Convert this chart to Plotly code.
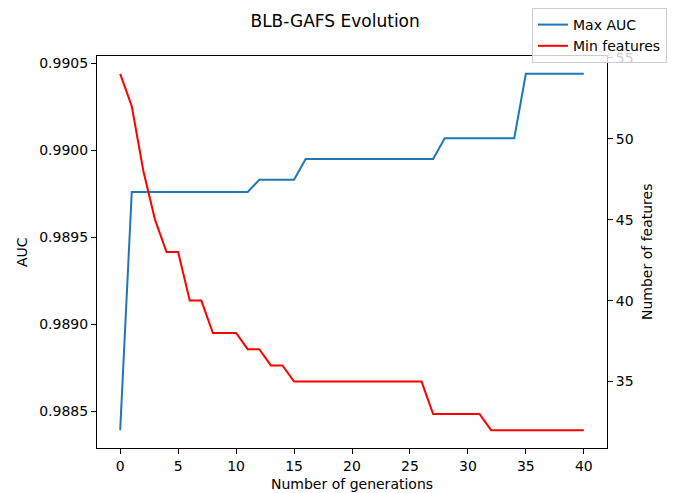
import plotly.graph_objects as go

# Generation index
generations = list(range(41))

# Best AUC reached so far at each generation
max_auc = [
    0.98839,
    0.98976, 0.98976, 0.98976, 0.98976, 0.98976, 0.98976, 0.98976, 0.98976, 0.98976, 0.98976, 0.98976,
    0.98983, 0.98983, 0.98983, 0.98983,
    0.98995, 0.98995, 0.98995, 0.98995, 0.98995, 0.98995, 0.98995, 0.98995, 0.98995, 0.98995, 0.98995, 0.98995,
    0.99007, 0.99007, 0.99007, 0.99007, 0.99007, 0.99007, 0.99007,
    0.99044, 0.99044, 0.99044, 0.99044, 0.99044, 0.99044,
]

# Smallest feature subset size found so far at each generation
min_features = [
    54, 52, 48, 45, 43, 43, 40, 40, 38, 38, 38, 37, 37, 36, 36,
    35, 35, 35, 35, 35, 35, 35, 35, 35, 35, 35, 35,
    33, 33, 33, 33, 33,
    32, 32, 32, 32, 32, 32, 32, 32, 32,
]

x_ticks = [0, 5, 10, 15, 20, 25, 30, 35, 40]
auc_ticks = [0.9885, 0.9890, 0.9895, 0.9900, 0.9905]
feature_ticks = [35, 40, 45, 50, 55]

FONT = "DejaVu Sans"
BLUE = "#1f77b4"
RED = "#ff0000"


def padded(lo, hi, frac=0.05):
    span = hi - lo
    return [lo - frac * span, hi + frac * span]


fig = go.Figure()
fig.add_trace(go.Scatter(
    x=generations, y=max_auc, mode="lines", name="Max AUC",
    line=dict(color=BLUE, width=2), yaxis="y",
))
fig.add_trace(go.Scatter(
    x=generations, y=min_features, mode="lines", name="Min features",
    line=dict(color=RED, width=2), yaxis="y2",
))

axis_common = dict(
    showgrid=False, zeroline=False, showline=True, linecolor="black", linewidth=1,
    ticks="outside", ticklen=5, tickwidth=1, tickcolor="black", automargin=False,
    tickfont=dict(family=FONT, size=14, color="black"),
)

fig.update_layout(
    width=675, height=493,
    margin=dict(l=97, r=68, t=56, b=45, pad=0, autoexpand=False),
    paper_bgcolor="white", plot_bgcolor="white",
    font=dict(family=FONT, size=14, color="black"),
    title=dict(text="BLB-GAFS Evolution", x=0.4965, xanchor="center",
               y=1 - 21 / 493, yanchor="middle", xref="container", yref="container",
               font=dict(family=FONT, size=17, color="black")),
    xaxis=dict(range=padded(min(generations), max(generations)), tickvals=x_ticks,
               mirror=True, **axis_common),
    yaxis=dict(range=padded(min(max_auc), max(max_auc)), tickvals=auc_ticks,
               tickformat=".4f", **axis_common),
    yaxis2=dict(range=padded(min(min_features), max(min_features)), tickvals=feature_ticks,
                overlaying="y", side="right", **axis_common),
    showlegend=True,
    legend=dict(x=(667 - 97) / 510, y=(448 - 8) / 392, xanchor="right", yanchor="top",
                xref="paper", yref="paper",
                bgcolor="rgba(255,255,255,0.8)", bordercolor="#cccccc", borderwidth=1,
                font=dict(family=FONT, size=14, color="black"), tracegroupgap=0),
    annotations=[
        dict(text="Number of generations", x=0.5, y=(448 - 484) / 392, xref="paper", yref="paper",
             xanchor="center", yanchor="middle", showarrow=False,
             font=dict(family=FONT, size=14, color="black")),
        dict(text="AUC", x=(22 - 97) / 510, y=0.5, xref="paper", yref="paper",
             xanchor="center", yanchor="middle", textangle=-90, showarrow=False,
             font=dict(family=FONT, size=14, color="black")),
        dict(text="Number of features", x=(647 - 97) / 510, y=0.5, xref="paper", yref="paper",
             xanchor="center", yanchor="middle", textangle=-90, showarrow=False,
             font=dict(family=FONT, size=14, color="black")),
    ],
)

fig.write_html("out.html")
